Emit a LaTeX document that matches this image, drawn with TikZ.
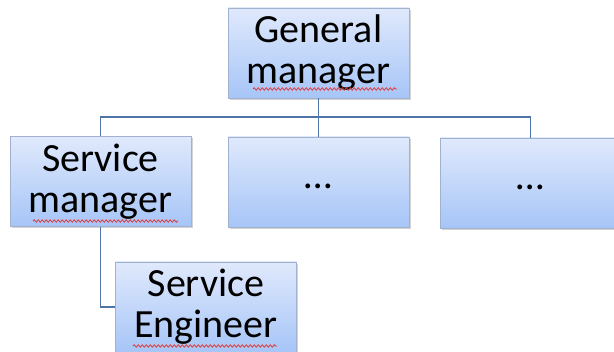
\documentclass[tikz,border=0pt]{standalone}
\usepackage{fontspec}
\setmainfont{Carlito}
\usetikzlibrary{shadows,decorations.pathmorphing}
\definecolor{boxtop}{RGB}{224,233,252}
\definecolor{boxbot}{RGB}{166,197,247}
\definecolor{boxline}{RGB}{160,178,206}
\definecolor{conn}{RGB}{79,116,170}
\definecolor{squig}{RGB}{220,60,60}
\tikzset{
  orgbox/.style={draw=boxline, line width=0.8pt, top color=boxtop, bottom color=boxbot,
    minimum width=181pt, minimum height=90pt, inner sep=0pt, align=center,
    font=\fontsize{40}{41}\selectfont,
    drop shadow={shadow xshift=1.5pt, shadow yshift=-2pt, opacity=0.35, fill=gray}},
  link/.style={draw=conn, line width=1.6pt},
  wavy/.style={draw=squig, line width=0.8pt, decorate,
    decoration={snake, amplitude=1.2pt, segment length=4pt}}
}
\begin{document}
\begin{tikzpicture}[x=1pt,y=-1pt]
\useasboundingbox (0,0) rectangle (614,352);
\node[orgbox] (gm) at (318.5,53) {General\\manager};
\node[orgbox] (sm) at (100.5,181.5) {Service\\manager};
\node[orgbox] (m2) at (318.5,182) {};
\node[orgbox] (m3) at (530.5,183) {};
\node[orgbox] (se) at (206,307) {Service\\Engineer};
\node[font=\fontsize{40}{41}\selectfont, anchor=base] (d2) at (318.5,189) {…};
\node[font=\fontsize{40}{41}\selectfont, anchor=base] (d3) at (530.5,190) {…};
\coordinate (bus) at (318.5,117);
\draw[link] (gm.south) -- (bus);
\draw[link] (sm.north) |- (bus) -| (m3.north);
\draw[link] (bus) -- (m2.north);
\draw[link] (sm.south) |- (se.west);
\draw[wavy] (253,89) -- (397,89);
\draw[wavy] (33,221) -- (178,221);
\draw[wavy] (133,346) -- (277,346);
\end{tikzpicture}
\end{document}
